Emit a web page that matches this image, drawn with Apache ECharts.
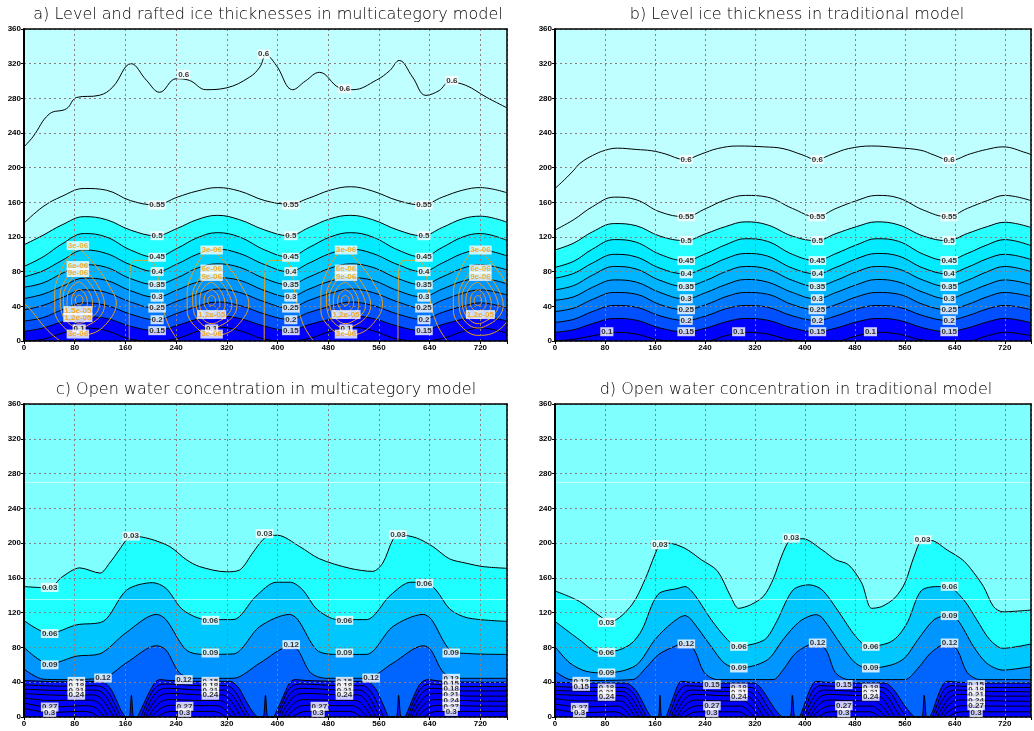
<!DOCTYPE html>
<html><head><meta charset="utf-8">
<script src="https://cdn.jsdelivr.net/npm/echarts@6/dist/echarts.min.js"></script>
<style>html,body{margin:0;padding:0;background:#fff}#c{width:1034px;height:731px}</style>
</head><body><div id="c"></div>
<script>
// ---------- axes ----------
const xTickLabels = [0,80,160,240,320,400,480,560,640,720];
const yTickLabels = [0,40,80,120,160,200,240,280,320,360];
const titles = [
  'a) Level and rafted ice thicknesses in multicategory model',
  'b) Level ice thickness in traditional model',
  'c) Open water concentration in multicategory model',
  'd) Open water concentration in traditional model'];

// ---------- panel a / b : contour lines sampled at XA ----------
const XA = [0,30,60,95,130,168,208,242,273,305,340,380,418,450,483,515,550,590,628,660,692,720,762];
const a010 = [0,2,9,15,12,2,0,3,11,16,12,2,0,3,11,16,12,2,0,3,11,15,9];
const a015 = [11,15,22,28,26,17,12,18,25,29,26,17,12,19,25,29,26,17,12,19,25,28,23];
const a020 = [23,27,36,44,41,31,24.5,32,40,45,41,31,25,33,40,45,41,31,25,33,40,44,38];
const a025 = [36,41,50,59,56,45,38,46,54,60,56,45,38,47,55,60,56,45,38,47,55,59,53];
const a030 = [49,54,63,72.5,70,58,50.6,59,68,73,70,58,51,60,69,73,70,58,51,60,69,72,66];
const a035 = [62,67,78,88,85,72,65,73,84,89,85,72,65,74,84,89,85,72,65,74,84,88,82];
const a040 = [74,81,93,105,101,88,80,89,100,106,101,88,80,90,101,106,101,88,80,90,101,105,98];
const a045 = [86,97,112,124,120,105,96.6,107,119,125,120,105,97,108,120,125,120,105,97,108,120,124,116];
const a050 = [111,122,134,143.5,140,128,121.5,130,140,145,140,128,121.5,131,141,145,140,128,121.5,131,141,144,137];
const a055 = [136,155,167,176,174,162,157,166,173,177,173,162,158,165,174,178,173,162,157,166,174,177,171];
const a060 = [[0,224],[14,235.5],[40,262],[67,268],[83,281],[119,283.5],[140,293],[169,320],[193,301],[214,287],[240,302.6],[261,300.7],[287,290],[319,292],[356,304.5],[372,316],[382,330],[398,318],[424,290],[444,300],[466,310],[498,292],[519,290],[556,301],[577,312],[592,323.7],[613,304.5],[634,283.4],[655,289],[671,298.7],[697,295],[729,281.5],[762,269]];

const b010 = [0,2,6,10,8,1,0,0,6,10,8,1,0,0,6,10,8,1,0,0,6,10,6];
const b015 = [10,13,20,26,24,15,10.7,15,22,26,24,15,10.7,15,22,26,24,15,10.7,15,22,26,21];
const b020 = [21.5,25,34,41,39,29,23.8,29,37,41,39,29,23.8,29,37,41,39,29,23.8,29,37,41,36];
const b025 = [34,38,48,56,54,42,36,42,51,56,54,42,36,42,51,56,54,42,36,42,51,56,51];
const b030 = [47,51,62,70.5,68,56,48.7,56,65,71,68,56,48.7,56,65,71,68,56,48.7,56,65,70.5,65];
const b035 = [59,64,76,86,83,70,62.9,70,80,86,83,70,62.9,70,80,86,83,70,62.9,70,80,86,80];
const b040 = [72.5,78,90,100,97,84,77.5,85,95,101,98,84,77.5,85,95,101,98,84,77.5,85,95,100,94];
const b045 = [85,92,106,117,114,100,92.8,101,111,118,115,100,92.8,101,111,118,115,100,92.8,101,111,117,110];
const b050 = [105,113,126,135.5,133,121,115.8,124,132,137.5,134,121,115.8,124,132,137.5,134,121,115.8,124,132,137,131];
const b055 = [128,140,155,166,163,149,143.4,153,163,168,166,153,143.4,153,162,168,165,151,143.4,153,162,168,162];
const b060 = [[0,176],[15,186],[30,197],[40,205],[60,214],[80,220],[100,222.5],[130,221],[155,219.5],[176,216],[207,209.5],[235,216],[260,222],[292,225],[335,224],[365,222],[397,214.5],[418,209.5],[445,216],[470,222],[507,225],[549,223],[586,220],[607,214.5],[633,208.6],[665,216],[691,221],[717,224],[755,217],[762,215]];

// orange (rafted ice) contours of panel a
const orangeCenters = [[87,47.5],[296,47],[507,47],[716,47]];
const orangeLoop3e6 = [[-2,61.5],[27,38.5],[48,15.5],[58.6,-3.8],[48,-23],[22,-38.5],[0,-40.5],[-25.5,-30.5],[-38.6,-11.5],[-38.6,7.5],[-28,34.5],[-12.3,53.5]];
const orangeLoop6e6 = [[0,39.5],[18,28],[34,10],[40,-6],[32,-20],[12,-30],[0,-32],[-18,-26],[-29,-10],[-30,6],[-22,22],[-10,33]];
const orangeLoop9e6 = [[0,31.5],[14,22],[27,7],[32,-6],[25,-17],[10,-25],[0,-27],[-15,-21],[-24,-8],[-25,5],[-18,18],[-8,27]];
const orangeLoop12e6 = [[0,21],[10,15],[19,4],[21,-6],[15,-15],[0,-21],[-13,-16],[-19,-5],[-18,6],[-12,15],[-6,19]];
const orangeLoop15e6 = [[0,12.5],[7,9],[12,2],[13,-5],[8,-11],[0,-13.5],[-8,-10],[-12,-3],[-11,4],[-7,9]];
const orangeLoop18e6 = [[0,5.5],[4,4],[6,0],[5,-4],[0,-6],[-5,-4],[-6,0],[-4,4]];
const orangeArchLefts = [166,379,590];
const orangeArch = [[0,0],[0,30],[0.5,60],[1.5,82],[5,91],[12,93],[30,93],[38,90],[44,80],[47,62],[52,42],[60,22],[70,8],[78,0]];
const orangeEdge = [[0,44],[14,33],[28,20],[42,9],[57,0]];

// ---------- panel c ----------
const c03 = [[0,150],[40,148.5],[60,161],[88,171.5],[120,165.5],[135,177],[150,192],[162,204],[172,208],[198,205],[230,196],[256,181],[277,173],[319,167],[340,169],[361,189],[377,204],[390,209],[400,209],[435,196],[466,182],[514,171],[550,167.5],[566,177],[582,204],[592,209.5],[619,206],[645,196],[671,182],[697,177],[724,173],[762,171]];
const c06 = [[0,111],[40,96],[83,106],[125,110],[162,146],[203,154.5],[224,148],[251,123],[288,112],[330,112],[366,139],[398,155],[420,155],[440,146],[462,124],[495,112],[540,112],[578,140],[610,155],[632,155],[650,146],[672,124],[700,114],[762,110]];
const c09 = [[0,80],[40,61],[83,70],[119,72.5],[161,97],[209,118],[224,112],[256,77],[282,72],[330,72.5],[372,104],[419,118],[432,112],[462,77],[490,72],[540,72],[582,104],[630,118],[643,112],[672,77],[700,73],[762,72]];
const c12 = [[0,55],[30,43.5],[60,43],[125,45],[161,62],[209,82],[224,77],[245,51],[266,44.5],[330,44.5],[372,62],[419,81],[432,77],[452,51],[476,44.5],[540,44.5],[582,62],[630,82],[642,77],[662,51],[686,44.5],[762,44.5]];
const c15 = [[0,42],[60,40.5],[115,41],[128,39],[138,31],[146,19],[152,9],[158,2],[161,0],[166,0],[169.5,25],[173,0],[178,0],[183,6],[190,17],[198,29],[206,39],[214,43],[230,42],[280,41],[325,41],[333,38],[341,31],[349,20],[357,10],[364,3],[369,0],[377,0],[381,25],[385,0],[393,0],[398,6],[405,17],[412,29],[419,39],[427,43],[445,42],[500,41],[540,41],[548,38],[556,31],[563,20],[569,10],[573,3],[576,0],[587,0],[591,25],[595,0],[600,0],[605,6],[611,17],[618,29],[626,39],[637,43],[660,41],[720,40],[762,40]];
const c18 = [[0,37],[60,35.5],[112,36],[125,34],[135,26],[143,15],[149,6],[154,0],[183,0],[188,7],[195,19],[203,30],[211,36],[222,38],[280,36],[320,36],[330,32],[338,24],[346,13],[353,4],[358,0],[397,0],[402,7],[409,19],[416,30],[424,36],[435,38],[500,36],[535,36],[544,32],[552,24],[559,13],[565,4],[569,0],[604,0],[609,7],[615,19],[623,30],[631,36],[642,38],[680,35],[762,35]];
const c21 = [[0,32],[60,30.5],[110,31],[122,29],[132,21],[140,11],[146,3],[149,0],[187,0],[192,7],[199,18],[207,27],[216,32],[228,33],[280,31],[316,31],[326,27],[335,19],[343,9],[349,2],[352,0],[400,0],[405,7],[412,18],[420,27],[429,32],[440,33],[500,31],[530,31],[540,27],[548,19],[555,9],[560,2],[563,0],[607,0],[612,7],[619,18],[627,27],[636,32],[648,33],[690,30],[762,30]];
const c24 = [[0,27],[60,25],[108,25.5],[119,23],[128,16],[135,8],[140,2],[143,0],[191,0],[196,7],[204,16],[212,23],[221,26.5],[235,27],[280,25.5],[312,25.5],[322,22],[331,14],[338,6],[343,0],[404,0],[409,7],[417,16],[425,23],[434,26.5],[448,27],[500,25.5],[526,25.5],[536,22],[544,14],[551,6],[556,0],[611,0],[616,7],[624,16],[632,23],[641,26.5],[655,27],[700,24],[762,24]];
const cMid = [[0,22],[40,19],[105,19.5],[116,17],[124,11],[130,4],[134,0],[196,0],[201,6],[209,13],[217,18],[228,20],[280,19],[308,19],[318,16],[326,9],[332,3],[336,0],[409,0],[414,6],[422,13],[430,18],[441,20],[500,19],[522,19],[532,16],[540,9],[546,3],[549,0],[616,0],[621,6],[629,13],[637,18],[648,20],[710,18.5],[762,18]];
const c27 = [[0,16],[40,11.5],[100,13],[112,11],[120,6],[126,1],[128,0],[201,0],[206,4],[214,9],[223,12.5],[235,13.5],[280,13],[304,13],[314,10],[321,5],[326,1],[328,0],[414,0],[419,4],[427,9],[436,12.5],[448,13.5],[500,13],[518,13],[528,10],[535,5],[540,1],[542,0],[621,0],[626,4],[634,9],[643,12.5],[655,13.5],[720,12.5],[762,12.5]];
const c30 = [[0,10],[40,5.3],[95,6.5],[107,5],[114,2],[118,0],[208,0],[214,2],[222,5],[232,6.5],[280,6.5],[300,6.5],[310,4],[316,1],[319,0],[421,0],[427,2],[435,5],[445,6.5],[500,6.5],[514,6.5],[524,4],[530,1],[533,0],[628,0],[634,2],[642,5],[652,6.5],[720,6.5],[762,6.5]];

// ---------- panel d ----------
const d03 = [[0,145],[39,133],[76,114],[90,110],[123,129],[144,158],[160,187],[168,198],[181,200],[208,194],[234,181],[260,168],[281,139],[294,125],[313,129],[334,139],[349,158],[365,189],[378,204],[397,205],[428,192],[449,181],[470,175],[491,154],[507,125],[523,127],[544,137],[560,154],[575,185],[588,203],[602,203],[628,192],[652,181],[665,171],[686,150],[702,127],[717,121],[762,123]];
const d06 = [[0,110],[39,89],[71,74],[102,77],[123,85],[139,100],[165,141],[197,148],[208,150],[223,141],[250,112],[276,89],[292,81],[323,85],[339,91],[355,110],[381,146],[407,152],[428,146],[455,120],[481,93],[502,81],[533,85],[549,93],[565,110],[586,145],[612,150],[628,150],[654,135],[675,112],[696,89],[717,79],[762,84]];
const d09 = [[0,81],[24,62],[50,52.5],[81,50.6],[113,54],[134,62],[160,89],[187,108],[208,116.6],[218,112],[250,81],[271,62],[292,56],[323,60],[344,68],[365,89],[392,110],[418,117.7],[428,114],[460,81],[481,62],[502,56],[539,60],[560,68],[581,89],[607,112],[628,116.6],[644,112],[670,81],[691,62],[717,54],[762,58]];
const d12 = [[0,52.5],[24,43],[50,42],[124,43],[145,56],[166,72],[197,83],[208,85],[223,77],[239,51],[260,43],[349,43],[365,54],[386,74],[418,85],[434,77],[449,51],[470,43],[560,43],[581,56],[602,74],[628,85],[644,77],[660,51],[681,43],[762,43]];
const d15 = [[0,40],[60,39],[112,39],[120,37],[130,30],[139,19],[146,9],[151,3],[155,0],[165,0],[168,25],[171,0],[177,0],[181,6],[186,16],[192,28],[197,37],[202,41],[215,40],[270,39],[318,39],[326,36],[334,29],[343,19],[351,10],[359,3],[365,0],[376,0],[380,25],[384,0],[390,0],[395,6],[400,16],[406,28],[412,37],[418,41],[432,40],[490,39],[528,39],[536,36],[545,29],[554,19],[563,10],[571,3],[577,0],[587,0],[591,25],[595,0],[599,0],[604,6],[609,16],[615,28],[621,37],[628,41],[645,40],[700,39],[762,39]];
const d18 = [[0,35],[60,34],[110,34],[118,32],[128,25],[136,14],[143,5],[147,0],[181,0],[185,6],[190,16],[196,27],[202,33],[210,36],[270,34],[314,34],[322,31],[331,23],[340,12],[348,4],[353,0],[394,0],[398,6],[404,16],[410,27],[416,33],[424,36],[490,34],[524,34],[533,31],[542,23],[551,12],[559,4],[564,0],[603,0],[607,6],[613,16],[619,27],[625,33],[634,36],[690,34],[762,34]];
const d21 = [[0,30.5],[60,29.5],[108,29.5],[116,27],[125,20],[133,10],[139,3],[142,0],[185,0],[189,6],[195,15],[202,24],[209,29],[218,31],[270,29.5],[310,29.5],[318,26],[327,18],[336,8],[342,2],[345,0],[398,0],[402,6],[408,15],[415,24],[422,29],[431,31],[490,29.5],[520,29.5],[529,26],[538,18],[546,8],[552,2],[555,0],[607,0],[611,6],[617,15],[624,24],[631,29],[640,31],[690,29.5],[762,29]];
const d24 = [[0,26],[60,24.5],[106,24.5],[114,22],[122,15],[129,7],[134,1],[136,0],[189,0],[194,6],[201,14],[208,21],[216,25],[226,26],[270,24.5],[306,24.5],[314,21],[323,13],[330,5],[335,0],[402,0],[407,6],[414,14],[421,21],[429,25],[439,26],[490,24.5],[516,24.5],[525,21],[533,13],[540,5],[545,0],[611,0],[616,6],[623,14],[630,21],[638,25],[648,26],[700,24],[762,24]];
const dMid = [[0,21],[40,18.5],[104,18.5],[112,16],[119,10],[125,4],[129,0],[194,0],[199,5],[206,12],[214,17],[224,19.5],[270,18.5],[302,18.5],[310,15],[318,9],[324,3],[327,0],[407,0],[412,5],[419,12],[427,17],[437,19.5],[490,18.5],[512,18.5],[520,15],[528,9],[534,3],[537,0],[616,0],[621,5],[628,12],[636,17],[646,19.5],[710,18.5],[762,18]];
const d27 = [[0,15],[40,11.5],[100,12.5],[108,10.5],[115,6],[120,1],[122,0],[199,0],[204,4],[212,8.5],[221,12],[232,13],[270,12.5],[298,12.5],[306,9.5],[313,5],[318,1],[320,0],[412,0],[417,4],[425,8.5],[434,12],[445,13],[490,12.5],[508,12.5],[516,9.5],[523,5],[528,1],[530,0],[621,0],[626,4],[634,8.5],[643,12],[654,13],[720,12.5],[762,12.5]];
const d30 = [[0,9],[40,5],[96,6],[104,4.5],[110,2],[114,0],[206,0],[212,2],[220,5],[230,6],[294,6],[302,4],[308,1],[311,0],[419,0],[425,2],[433,5],[443,6],[504,6],[512,4],[518,1],[521,0],[628,0],[634,2],[642,5],[652,6],[720,6],[762,6]];

// ---------- contour labels ----------
const labelXsA = [210,421,631];
const labelLevelsA = [['0.55',156.8],['0.5',121.5],['0.45',96.6],['0.4',80.1],['0.35',64.8],['0.3',50.6],['0.25',38],['0.2',24.5],['0.15',11.9]];
const labelsA6 = [[252,307.6,'0.6'],[378,331,'0.6'],[506,291,'0.6'],[675,300.7,'0.6'],[87,14,'0.1'],[296,14,'0.1'],[508,14,'0.1']];
const orangeLabels = [[85,110,'3e-06'],[85,87,'6e-06'],[85,79,'9e-06'],[85,35,'1.5e-05'],[85,27,'1.2e-05'],[85,8,'3e-06'],
  [296,105,'3e-06'],[296,83,'6e-06'],[296,74.5,'9e-06'],[296,30.5,'1.2e-05'],[296,8,'3e-06'],
  [508,105,'3e-06'],[508,83,'6e-06'],[508,74.5,'9e-06'],[508,30.5,'1.2e-05'],[508,8,'3e-06'],
  [720,105,'3e-06'],[720,83,'6e-06'],[720,74.5,'9e-06'],[720,30.5,'1.2e-05']];
const labelXsB = [210,420,631];
const labelLevelsB = [['0.6',209.4],['0.55',143.4],['0.5',115.8],['0.45',92.8],['0.4',77.5],['0.35',62.9],['0.3',48.7],['0.25',36],['0.2',23.8],['0.15',10.7]];
const labelsB1 = [[83,10.7,'0.1'],[294,10.7,'0.1'],[505,10.7,'0.1']];
const labelsC = [
  [40.5,149,'0.03'],[169,208,'0.03'],[379.5,210.8,'0.03'],[590,209.7,'0.03'],
  [40.5,96,'0.06'],[294,111.2,'0.06'],[505.6,111.2,'0.06'],[631.7,153.4,'0.06'],
  [40.5,60,'0.09'],[294,73.6,'0.09'],[505.6,73.6,'0.09'],[674,73.6,'0.09'],
  [124.6,44.8,'0.12'],[252.3,43,'0.12'],[421.5,83.2,'0.12'],[547.6,44.8,'0.12'],[674,44.5,'0.12'],
  [82.6,41,'0.15'],[82.6,36.4,'0.18'],[82.6,30.7,'0.21'],[82.6,25,'0.24'],[40.5,11.5,'0.27'],[40.5,5.3,'0.3'],
  [294,41,'0.15'],[294,36.4,'0.18'],[294,30.7,'0.21'],[294,25,'0.24'],[253.4,12.3,'0.27'],[253.4,5.3,'0.3'],
  [505.6,41,'0.15'],[505.6,36.4,'0.18'],[505.6,30.7,'0.21'],[505.6,25,'0.24'],[466,12.3,'0.27'],[464,5.3,'0.3'],
  [674,38.3,'0.15'],[674,32.1,'0.18'],[674,25.2,'0.21'],[674,19.1,'0.24'],[674,12.2,'0.27'],[674,6.4,'0.3']];
const labelsD = [
  [82.5,108.9,'0.03'],[168,198.2,'0.03'],[378.3,205.8,'0.03'],[588.5,203.9,'0.03'],
  [82.5,74.4,'0.06'],[294.3,81.3,'0.06'],[505.5,81.3,'0.06'],[631.6,150.3,'0.06'],
  [82.5,50.6,'0.09'],[294.3,56.4,'0.09'],[505.5,56.4,'0.09'],[631.6,116.6,'0.09'],
  [42,41,'0.12'],[210.2,84,'0.12'],[420.4,85.1,'0.12'],[631.6,85.1,'0.12'],
  [42,35.3,'0.15'],[82.5,33.3,'0.18'],[82.5,28.4,'0.21'],[82.5,23.8,'0.24'],[39.4,11.1,'0.27'],[39.4,5,'0.3'],
  [251.2,37.2,'0.15'],[294.3,33.3,'0.18'],[294.3,28.4,'0.21'],[294.3,23.8,'0.24'],[251.2,13,'0.27'],[251.2,5,'0.3'],
  [462.4,37.2,'0.15'],[505.5,33.3,'0.18'],[505.5,28.4,'0.21'],[505.5,23.8,'0.24'],[462.4,13,'0.27'],[462.4,5,'0.3'],
  [674.2,37.2,'0.15'],[674.2,31.4,'0.18'],[674.2,25.7,'0.21'],[674.2,19.2,'0.24'],[674.2,13,'0.27'],[674.2,5,'0.3']];

// ---------- colours ----------
const bandsAB = ['#0000ff','#0050ff','#0078ff','#0096ff','#00b4ff','#00d0ff','#00ebff','#28ffff','#b0ffff','#c0ffff','#c0ffff'];
const bandsCD = ['#0000ff','#0000ff','#0000ff','#0000ff','#000aff','#0014ff','#0064ff','#0096ff','#00c8ff','#20ffff','#80ffff'];
const orange = '#e8a020';

// ---------- build ----------
const zipA = ys => XA.map((x,i)=>[x,ys[i]]);
const linesA = [a010,a015,a020,a025,a030,a035,a040,a045,a050,a055].map(zipA).concat([a060]);
const linesB = [b010,b015,b020,b025,b030,b035,b040,b045,b050,b055].map(zipA).concat([b060]);
const linesC = [c30,c27,cMid,c24,c21,c18,c15,c12,c09,c06,c03];
const linesD = [d30,d27,dMid,d24,d21,d18,d15,d12,d09,d06,d03];

const grids = [
  {left:24, top:29, width:483, height:312},
  {left:555, top:29, width:483, height:312},
  {left:24, top:404, width:483, height:313},
  {left:555, top:404, width:483, height:313}];
const lab = {fontSize:8, fontWeight:'bold', fontFamily:'Liberation Sans', color:'#000'};
const xAxes = [], yAxes = [];
grids.forEach((g,gi)=>{
  g.show = true; g.borderWidth = 0; g.backgroundColor = '#0000ff';
  xAxes.push({type:'value', gridIndex:gi, min:0, max:762, interval:80, position:'bottom', z:5,
    axisLine:{show:true,onZero:false,lineStyle:{color:'#000',width:1.5}},
    axisTick:{show:true,length:3,lineStyle:{color:'#000'}},
    axisLabel:Object.assign({margin:3, formatter:v=>xTickLabels.includes(v)?String(v):''},lab),
    splitLine:{show:true,lineStyle:{color:'#8a7f7f',type:[2,3],width:1}}});
  xAxes.push({type:'value', gridIndex:gi, min:0, max:762, position:'top', z:5,
    axisLine:{show:true,onZero:false,lineStyle:{color:'#000',width:1.5}},
    axisTick:{show:false}, axisLabel:{show:false}, splitLine:{show:false}});
  yAxes.push({type:'value', gridIndex:gi, min:0, max:360, interval:40, position:'left', z:5,
    axisLine:{show:true,onZero:false,lineStyle:{color:'#000',width:2}},
    axisTick:{show:true,length:3,lineStyle:{color:'#000'}},
    axisLabel:Object.assign({margin:3, formatter:v=>yTickLabels.includes(v)?String(v):''},lab),
    splitLine:{show:true,lineStyle:{color:'#8a7f7f',type:[2,3],width:1}}});
  yAxes.push({type:'value', gridIndex:gi, min:0, max:360, position:'right', z:5,
    axisLine:{show:true,onZero:false,lineStyle:{color:'#000',width:1.5}},
    axisTick:{show:false}, axisLabel:{show:false}, splitLine:{show:false}});
});

const series = [];
function contours(gi, lines, bands, smooth, extraLast) {
  lines.forEach((d,i)=>series.push({type:'line', xAxisIndex:2*gi, yAxisIndex:2*gi, data:d, smooth, symbol:'none', silent:true, z:2,
    lineStyle:{width:0,opacity:0}, areaStyle:{color:bands[i], opacity:1, origin:'end'}}));
  lines.forEach((d,i)=>{
    const s = {type:'line', xAxisIndex:2*gi, yAxisIndex:2*gi, data:d, smooth, symbol:'none', silent:true, z:3,
      lineStyle:{color:'#000', width:1}};
    if (extraLast && i === lines.length-1) s.markLine = extraLast;
    series.push(s);
  });
}
function orangeLine(d){
  series.push({type:'line', xAxisIndex:0, yAxisIndex:0, data:d, smooth:0.4, symbol:'none', silent:true, z:3,
    lineStyle:{color:orange, width:1}});
}
function labels(gi, items, color, z){
  series.push({type:'scatter', xAxisIndex:2*gi, yAxisIndex:2*gi, z, silent:true, symbolSize:1,
    itemStyle:{color:'rgba(0,0,0,0)'},
    data: items.map(([x,y,t])=>({value:[x,y], name:t})),
    label:{show:true, position:'inside', formatter:'{b}', color, backgroundColor:'#fff',
      fontSize:8, fontWeight:'bold', fontFamily:'Liberation Sans', padding:[1,1,0,1], lineHeight:8}});
}
const faint = {silent:true, symbol:'none', label:{show:false},
  lineStyle:{color:'rgba(255,255,255,0.55)', width:1, type:'solid'}, data:[{yAxis:270},{yAxis:135}]};

contours(0, linesA, bandsAB, 0.4);
[orangeLoop3e6,orangeLoop6e6,orangeLoop9e6,orangeLoop12e6,orangeLoop15e6,orangeLoop18e6].forEach(shape=>{
  orangeCenters.forEach(([cx,cy])=>{
    const pts = shape.map(([dx,dy])=>[cx+dx, cy+dy]);
    pts.push(pts[0]);
    orangeLine(pts);
  });
});
orangeArchLefts.forEach(l=>orangeLine(orangeArch.map(([dx,y])=>[l+dx,y])));
orangeLine(orangeEdge);
contours(1, linesB, bandsAB, 0.4);
contours(2, linesC, bandsCD, 0.3, faint);
contours(3, linesD, bandsCD, 0.3, faint);

const labA = []; labelXsA.forEach(x=>labelLevelsA.forEach(([t,y])=>labA.push([x,y,t])));
labels(0, labA.concat(labelsA6), '#000', 10);
labels(0, orangeLabels, '#f0a000', 11);
const labB = []; labelXsB.forEach(x=>labelLevelsB.forEach(([t,y])=>labB.push([x,y,t])));
labels(1, labB.concat(labelsB1), '#000', 10);
labels(2, labelsC, '#000', 10);
labels(3, labelsD, '#000', 10);

const titlePos = [[268,15],[797,15],[266,390],[796,390]];
const graphic = titles.map((t,i)=>({type:'text', x:titlePos[i][0], y:titlePos[i][1], z:20,
  style:{text:t, fill:'#000', fontSize:16, fontWeight:200, fontFamily:'DejaVu Sans', align:'center', verticalAlign:'middle'}}));

const chart = echarts.init(document.getElementById('c'), null, {renderer:'canvas'});
chart.setOption({animation:false, backgroundColor:'#fff', grid:grids, xAxis:xAxes, yAxis:yAxes, series, graphic});
</script></body></html>
